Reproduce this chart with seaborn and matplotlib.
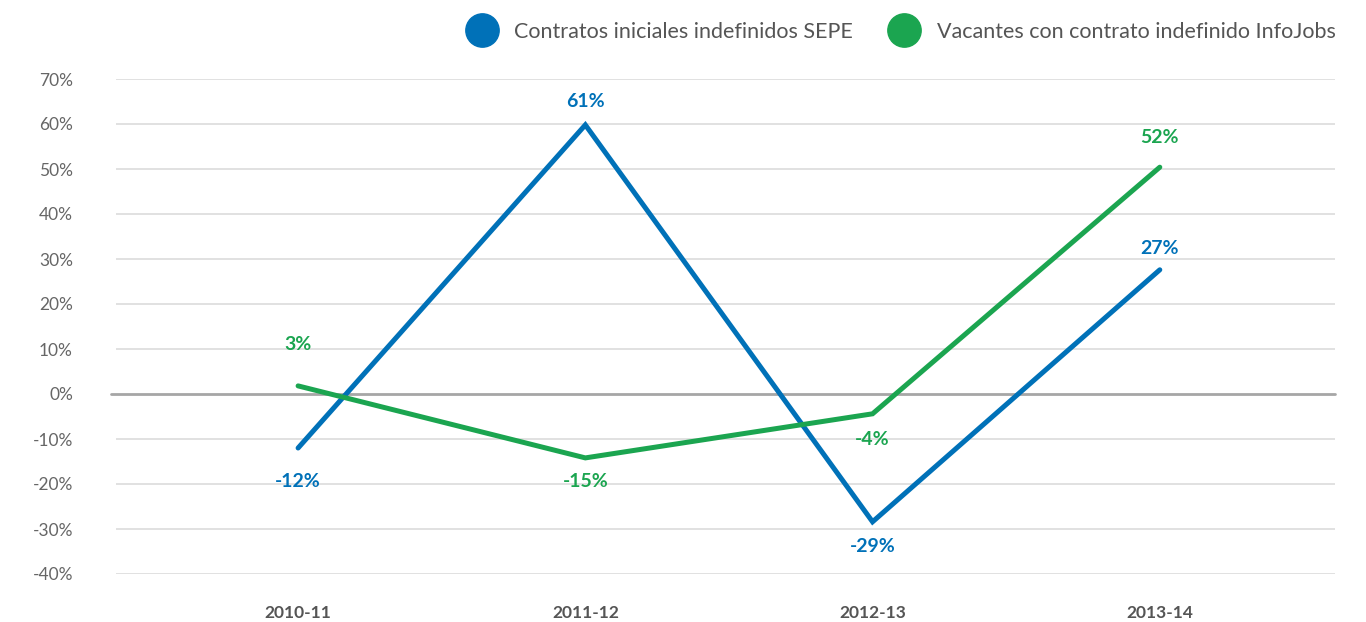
import pandas as pd
import matplotlib.pyplot as plt
import seaborn as sns
from matplotlib.lines import Line2D

# Datos
periodos = ['2010-11', '2011-12', '2012-13', '2013-14']
sepe = [-12, 59.8, -28.4, 27.6]
infojobs = [1.8, -14.2, -4.4, 50.4]
etiquetas_sepe = ['-12%', '61%', '-29%', '27%']
etiquetas_infojobs = ['3%', '-15%', '-4%', '52%']
serie_sepe = 'Contratos iniciales indefinidos SEPE'
serie_infojobs = 'Vacantes con contrato indefinido InfoJobs'

azul = '#0071b8'
verde = '#1ba550'

df = pd.DataFrame({
    'x': list(range(len(periodos))) * 2,
    'valor': sepe + infojobs,
    'serie': [serie_sepe] * len(periodos) + [serie_infojobs] * len(periodos),
})

sns.set_style('white')
plt.rcParams['font.family'] = ['Lato', 'DejaVu Sans']

fig = plt.figure(figsize=(13.66, 6.22), dpi=100)
ax = fig.add_axes([116 / 1366, 1 - 574 / 622, (1335 - 116) / 1366, (574 - 79) / 622])

sns.lineplot(data=df, x='x', y='valor', hue='serie', palette={serie_sepe: azul, serie_infojobs: verde},
             linewidth=3.6, ax=ax, legend=False, zorder=3)
for line in ax.lines:
    line.set_solid_capstyle('round')
    line.set_solid_joinstyle('miter')

ax.set_xlim(-0.634, 3.61)
ax.set_ylim(-40, 70)
ax.set_yticks(range(-40, 71, 10))
ax.set_yticklabels([f'{v}%' for v in range(-40, 71, 10)], color='#666666', fontsize=12.5)
ax.set_xticks(range(len(periodos)))
ax.set_xticklabels(periodos, color='#555555', fontsize=12.5, fontweight='bold')
ax.tick_params(axis='y', length=0, pad=31)
ax.tick_params(axis='x', length=0, pad=22)
ax.set_xlabel('')
ax.set_ylabel('')
for s in ax.spines.values():
    s.set_visible(False)

for v in range(-40, 71, 10):
    if v != 0:
        ax.axhline(v, color='#d9d9d9', linewidth=1.1, zorder=1)
ax.axhline(0, xmin=-0.004, color='#a6a6a6', linewidth=2, zorder=2, clip_on=False)

# Etiquetas de valores
desp_sepe = [-7.5, 5.3, -5.6, 4.7]
desp_info = [9.3, -5.3, -5.8, 6.5]
for i in range(len(periodos)):
    ax.text(i, sepe[i] + desp_sepe[i], etiquetas_sepe[i], color=azul, fontsize=14,
            fontweight='bold', ha='center', va='center', zorder=4)
    ax.text(i, infojobs[i] + desp_info[i], etiquetas_infojobs[i], color=verde, fontsize=14,
            fontweight='bold', ha='center', va='center', zorder=4)

handles = [Line2D([], [], marker='o', linestyle='', markersize=24, color=azul),
           Line2D([], [], marker='o', linestyle='', markersize=24, color=verde)]
fig.legend(handles, [serie_sepe, serie_infojobs], loc='center right', bbox_to_anchor=(1355 / 1366, 1 - 32 / 622),
           ncol=2, frameon=False, fontsize=15.5, labelcolor='#555555', handletextpad=0.9, columnspacing=1.8,
           handlelength=1.2)

fig.savefig('out.png', dpi=100)
